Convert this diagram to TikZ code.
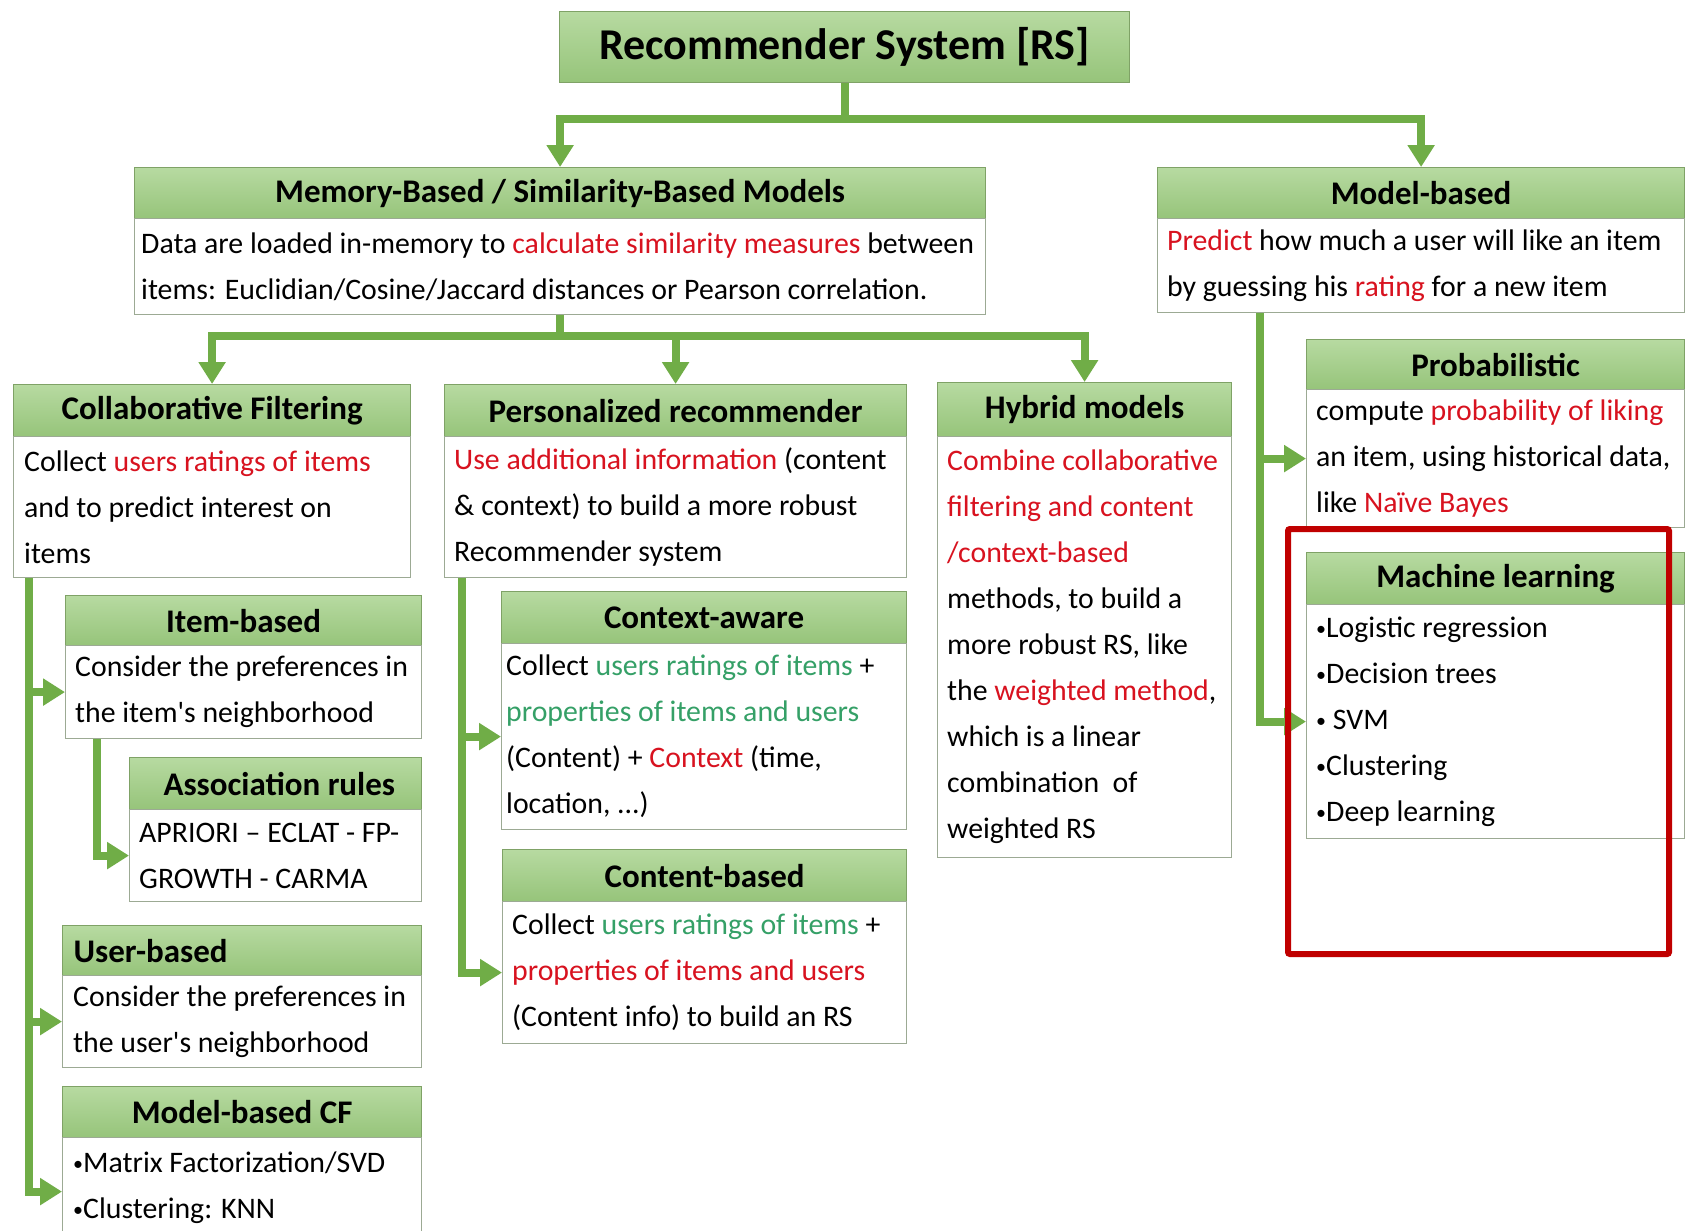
\documentclass[tikz,border=0pt]{standalone}
\usepackage{fontspec}
\setmainfont{Carlito}
\usetikzlibrary{arrows.meta}
\definecolor{arrgreen}{HTML}{70AD47}
\definecolor{hdrtop}{HTML}{B7DAA1}
\definecolor{hdrbot}{HTML}{96C47A}
\definecolor{hdrline}{HTML}{7FA266}
\definecolor{bodyline}{HTML}{9CAA94}
\definecolor{txtred}{HTML}{D8121F}
\definecolor{txtgreen}{HTML}{35A067}
\definecolor{boxred}{HTML}{C00000}
\newcommand{\redtxt}[1]{\textcolor{txtred}{#1}}
\newcommand{\grntxt}[1]{\textcolor{txtgreen}{#1}}
\newcommand{\bodyfnt}{\fontsize{29.8}{46}\selectfont}
\newcommand{\hdrfnt}{\fontsize{33}{38}\selectfont\bfseries}
\newcommand{\bul}{\raisebox{2pt}{\fontsize{20}{20}\selectfont•}}
\tikzset{
  hdr/.style={draw=hdrline, line width=1.2pt, top color=hdrtop, bottom color=hdrbot,
    font=\hdrfnt, inner sep=0pt, anchor=north west},
  bodybox/.style={draw=bodyline, line width=1.2pt, fill=white, inner sep=0pt, anchor=north west},
  btext/.style={font=\bodyfnt, align=left, inner sep=0pt, anchor=west},
  arr/.style={draw=arrgreen, line width=8pt, -{Triangle[width=26pt,length=22pt]}},
  redframe/.style={draw=boxred, line width=6pt, rounded corners=2pt},
}
\begin{document}
\begin{tikzpicture}[x=1pt,y=-1pt]
\useasboundingbox[fill=white] (0,0) rectangle (1686,1231);

% ---------- boxes ----------
\node[hdr, minimum width=570pt, minimum height=71pt, font=\fontsize{44}{50}\selectfont\bfseries] (root) at (559,11) {Recommender System [RS]};

\node[hdr, minimum width=851pt, minimum height=51pt] (memh) at (134,167) {Memory-Based / Similarity-Based Models};
\node[bodybox, minimum width=851pt, minimum height=96pt] (memb) at (134,218) {};
\node[btext] (membt) at ([xshift=7pt]memb.west) {Data are loaded in-memory to \redtxt{calculate similarity measures} between\\items: Euclidian/Cosine/Jaccard distances or Pearson correlation.};

\node[hdr, minimum width=527pt, minimum height=51pt] (mbh) at (1157,167) {Model-based};
\node[bodybox, minimum width=527pt, minimum height=94pt] (mbb) at (1157,218) {};
\node[btext] (mbbt) at ([xshift=10pt]mbb.west) {\redtxt{Predict} how much a user will like an item\\by guessing his \redtxt{rating} for a new item};

\node[hdr, minimum width=397pt, minimum height=52pt] (cfh) at (13,384) {Collaborative Filtering};
\node[bodybox, minimum width=397pt, minimum height=141pt] (cfb) at (13,436) {};
\node[btext] (cfbt) at ([xshift=11pt]cfb.west) {Collect \redtxt{users ratings of items}\\and to predict interest on\\items};

\node[hdr, minimum width=462pt, minimum height=52pt] (perh) at (444,384) {Personalized recommender};
\node[bodybox, minimum width=462pt, minimum height=141pt] (perb) at (444,436) {};
\node[btext] (perbt) at ([xshift=10pt]perb.west) {\redtxt{Use additional information} (content\\\& context) to build a more robust\\Recommender system};

\node[hdr, minimum width=294pt, minimum height=54pt] (hybh) at (937,382) {Hybrid models};
\node[bodybox, minimum width=294pt, minimum height=421pt] (hybb) at (937,436) {};
\node[btext] (hybbt) at ([xshift=10pt]hybb.west) {\redtxt{Combine collaborative}\\\redtxt{filtering and content}\\\redtxt{/context-based}\\methods, to build a\\more robust RS, like\\the \redtxt{weighted method},\\which is a linear\\combination\ \ of\\weighted RS};

\node[hdr, minimum width=378pt, minimum height=50pt] (probh) at (1306,339) {Probabilistic};
\node[bodybox, minimum width=378pt, minimum height=138pt] (probb) at (1306,389) {};
\node[btext] (probbt) at ([xshift=10pt]probb.west) {compute \redtxt{probability of liking}\\an item, using historical data,\\like \redtxt{Naïve Bayes}};

\node[hdr, minimum width=378pt, minimum height=52pt] (mlh) at (1306,552) {Machine learning};
\node[bodybox, minimum width=378pt, minimum height=234pt] (mlb) at (1306,604) {};
\node[btext] (mlbt) at ([xshift=10pt]mlb.west) {\bul Logistic regression\\\bul Decision trees\\\bul\ SVM\\\bul Clustering\\\bul Deep learning};

\node[hdr, minimum width=356pt, minimum height=50pt] (itemh) at (65,595) {Item-based};
\node[bodybox, minimum width=356pt, minimum height=93pt] (itemb) at (65,645) {};
\node[btext] (itembt) at ([xshift=10pt]itemb.west) {Consider the preferences in\\the item\textquotesingle s neighborhood};

\node[hdr, minimum width=292pt, minimum height=52pt] (assh) at (129,757) {\ Association rules};
\node[bodybox, minimum width=292pt, minimum height=92pt] (assb) at (129,809) {};
\node[btext] (assbt) at ([xshift=10pt]assb.west) {APRIORI – ECLAT - FP-\\GROWTH - CARMA};

\node[hdr, minimum height=50pt, text width=337pt, inner xsep=11pt, align=left] (userh) at (62,925) {User-based};
\node[bodybox, minimum width=359pt, minimum height=92pt] (userb) at (62,975) {};
\node[btext] (userbt) at ([xshift=11pt]userb.west) {Consider the preferences in\\the user\textquotesingle s neighborhood};

\node[hdr, minimum width=359pt, minimum height=51pt] (mcfh) at (62,1086) {Model-based CF};
\node[bodybox, minimum width=359pt, minimum height=100pt] (mcfb) at (62,1137) {};
\node[btext, anchor=north west] (mcfbt) at ([xshift=11pt,yshift=-15pt]mcfb.north west) {\bul Matrix Factorization/SVD\\\bul Clustering: KNN};

\node[hdr, minimum width=405pt, minimum height=52pt] (ctxh) at (501,591) {Context-aware};
\node[bodybox, minimum width=405pt, minimum height=186pt] (ctxb) at (501,643) {};
\node[btext] (ctxbt) at ([xshift=5pt]ctxb.west) {Collect \grntxt{users ratings of items} +\\\grntxt{properties of items and users}\\(Content) + \redtxt{Context} (time,\\location, ...)};

\node[hdr, minimum width=404pt, minimum height=52pt] (conh) at (502,849) {Content-based};
\node[bodybox, minimum width=404pt, minimum height=142pt] (conb) at (502,901) {};
\node[btext] (conbt) at ([xshift=10pt]conb.west) {Collect \grntxt{users ratings of items} +\\\redtxt{properties of items and users}\\(Content info) to build an RS};

% ---------- connectors ----------
\draw[arr] (root.south) -- ++(0,36) -| (memh.north);
\draw[arr] (root.south) -- ++(0,36) -| (mbh.north);

\draw[arr] (memb.south) -- ++(0,21) -| (cfh.north);
\draw[arr] (memb.south) -- ++(0,21) -| (perh.north);
\draw[arr] (memb.south) -- ++(0,21) -| (hybh.north);

\draw[arr] ([xshift=103pt]mbb.south west) |- (probb.west);
\draw[arr] ([xshift=103pt]mbb.south west) |- (mlb.west);

\draw[arr] ([xshift=16pt]cfb.south west) |- (itemb.west);
\draw[arr] ([xshift=16pt]cfb.south west) |- (userb.west);
\draw[arr] ([xshift=16pt]cfb.south west) |- ([yshift=-4pt]mcfb.west);
\draw[arr] ([xshift=32pt]itemb.south west) |- (assb.west);

\draw[arr] ([xshift=18pt]perb.south west) |- (ctxb.west);
\draw[arr] ([xshift=18pt]perb.south west) |- (conb.west);

% ---------- highlight frame ----------
\draw[redframe] (1288,529) rectangle (1669,954);
\end{tikzpicture}
\end{document}
